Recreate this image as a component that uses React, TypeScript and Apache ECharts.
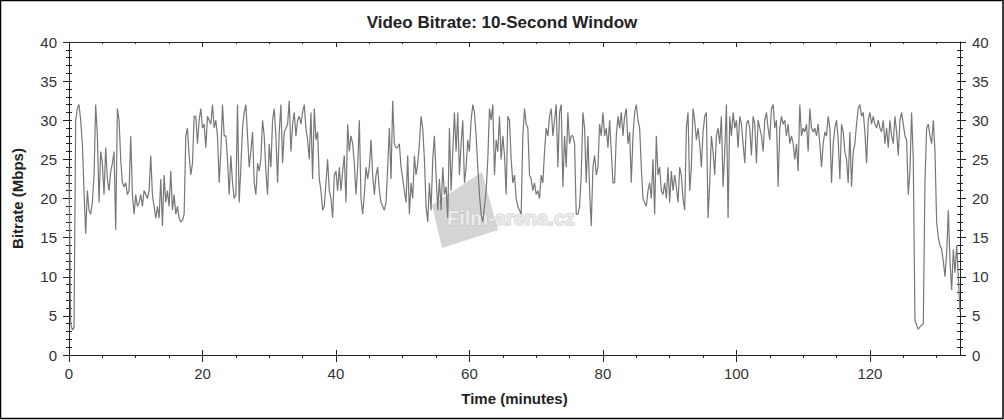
import React, { useEffect, useRef } from "react";
import * as echarts from "echarts";

// Bitrate (Mbps), sampled every 0.25 minute, in segments with their start minute
const SEG0_START = 0;
const SEG0 = [
  24, 4, 3.2, 3.5, 30, 31.5, 32, 30, 27, 21, 15.5, 21, 18.5, 18, 19.5, 23,
  32, 28, 19.5, 26, 24.5, 20.5, 26.5, 22.5, 21, 23.5, 24.5, 26, 16, 31.5, 30, 25,
  22, 21.5, 22, 20.5, 21, 28, 20.5, 18, 20.5, 19, 19.5, 20.5, 19, 21, 20.5, 20,
  21, 25.5, 20.5, 19, 17.5, 19, 17.5, 22.5, 16.5, 23, 19.5, 21, 19, 23.5, 18.5, 20.5,
  18, 19, 17.5, 17, 17.2, 18, 28, 29, 25.5, 23, 24.5, 30.5, 30.5, 27, 30, 31.5,
  29, 29.5, 26.5, 30.5, 30, 29.5, 32, 29,
];
const SEG1_START = 22;
const SEG1 = [
  30, 28, 22, 26, 32, 28, 28, 25, 20.5, 25.5, 22, 20, 20.5, 32, 19.5, 24,
  29, 31, 32, 28, 24, 26, 28.5, 22, 20.5, 24.5, 23.5, 25, 30, 28, 23.5, 20.5,
  27, 24, 30, 31.5, 28, 22, 28.5, 32, 24.5, 28.5, 29, 29.5, 32.5, 26, 29.5, 31,
  28, 30, 30.5, 29.5, 31, 32, 29, 27.5, 25, 31, 22.5, 31.5, 27.5, 28.5, 22.5, 21,
  18.5, 19, 22, 25, 21, 20, 17.5, 23, 23.5, 21, 24, 21, 23.5, 25.5, 19.5, 29.5,
  26, 28, 27, 24.5, 20.5, 24, 30, 20, 18, 20.5,
];
const SEG2_START = 44.5;
const SEG2 = [
  24, 22.5, 24, 27.5, 23, 20.5, 23, 24, 21, 19.5, 19, 18.5, 19.5, 24,
  29, 22.5, 32.5, 27, 26.5, 26.5, 27, 24, 22.5, 21, 19.5, 25.5, 18, 22, 20, 25.5,
  23, 24.5, 27, 30.5, 29, 25, 19, 17, 22, 18.5, 25, 28, 23, 18.5, 22.5, 18.5,
  24, 20.5, 21.5, 17.5, 29, 21, 26, 31, 26, 31, 23, 27, 30, 22, 24, 27.5,
  26, 30, 32, 31, 28, 24, 20.5, 18, 17, 19, 21, 25, 31.5, 30, 32, 23,
  27.5, 26, 30.5, 25, 28, 25.5, 20.5, 30.5, 30, 25, 22, 23,
];
const SEG3_START = 67;
const SEG3 = [
  20, 19, 18.5, 18, 28, 31.5, 29.5, 29, 23, 22.5, 21, 22, 20.5, 21, 20, 23,
  22, 26, 29, 28, 30.5, 31.5, 28, 30, 32, 24, 31, 32, 21.5, 28, 24, 31,
  27, 28, 28, 27, 18, 18, 19, 23, 31, 29, 22, 28, 21, 16.5, 24, 25.5,
  23, 24, 29.5, 28, 31, 28, 29, 26.5, 30, 26, 22, 22, 28, 30.5, 29, 31,
  28, 30.5, 31.5, 27, 28.5, 22, 28, 31, 32, 30, 29, 24, 20, 19.5, 19, 21,
  22, 20, 25, 18, 28, 23, 24, 21, 20.5, 22,
];
const SEG4_START = 89.5;
const SEG4 = [
  20, 24, 19.5, 23.5, 21, 23, 21.5, 19.5, 24, 23, 20, 18.5, 29, 31,
  21, 24, 31.5, 30, 27.5, 29, 27, 24, 28.5, 30.5, 31, 17.5, 22, 28, 26, 23,
  28, 29, 27, 30.5, 21.5, 26, 32, 17.5, 30.5, 28, 31, 29, 30, 26.5, 30.5, 29.5,
  27, 24.5, 29.5, 30, 29, 25.5, 30.5, 29.5, 24.5, 30, 29, 28, 26, 30, 31, 29,
  27.5, 31.5, 32, 29, 30, 21.5, 29, 30.5, 29.5, 30, 28, 29.5, 27, 28, 27, 25,
  27, 23.5, 32, 28, 29, 28.5, 29.5, 26, 31.5, 29, 28.5, 29,
];
const SEG5_START = 112;
const SEG5 = [
  28, 29.5, 27, 24, 27, 28.5, 28, 30.5, 29, 22, 27, 29, 30, 27.5, 22.5, 29.5,
  28.5, 26, 25, 22, 28.5, 21.5, 26, 27, 29.5, 31.5, 32, 30.5, 31, 28.5, 24.5, 30,
  31, 29.5, 30.5, 29.5, 29, 30, 29, 28.5, 30, 27, 29, 26.5, 30, 28, 27, 30.5,
  28.5, 25.5, 30, 31, 29.5, 28, 27.5, 20.5, 23.5, 31, 25, 4.5, 3.8, 3.3, 3.6, 3.8,
  4, 22, 29, 29.5, 28, 27, 30, 26, 17, 15, 14, 13.5, 12, 10, 13, 18.5,
  12, 8.3, 13.5, 10.5, 14, 10, 5.5,
];
const STEP = 0.25;

const X_MAJOR = [0, 20, 40, 60, 80, 100, 120];
const X_MINOR = [5, 10, 15, 25, 30, 35, 45, 50, 55, 65, 70, 75, 85, 90, 95, 105, 110, 115, 125, 130];
const X_MAX = 133.5;
const Y_MAX = 40;
const Y_INTERVAL = 5;

const TITLE = "Video Bitrate: 10-Second Window";
const X_NAME = "Time (minutes)";
const Y_NAME = "Bitrate (Mbps)";
const WATERMARK = "Film-arena.cz";

const FONT = "'Liberation Sans', Arial, sans-serif";

function buildData(): [number, number][] {
  const segs: [number, number[]][] = [
    [SEG0_START, SEG0],
    [SEG1_START, SEG1],
    [SEG2_START, SEG2],
    [SEG3_START, SEG3],
    [SEG4_START, SEG4],
    [SEG5_START, SEG5],
  ];
  const out: [number, number][] = [];
  segs.forEach(([start, vals]) => {
    vals.forEach((v, i) => out.push([start + i * STEP, v]));
  });
  return out;
}

export default function App() {
  const ref = useRef<HTMLDivElement>(null);
  useEffect(() => {
    if (!ref.current) return;
    const chart = echarts.init(ref.current, undefined, { renderer: "svg" });
    const axisColor = "#222";
    const labelColor = "#333";
    const baseX = {
      type: "value",
      min: 0,
      max: X_MAX,
      splitLine: { show: false },
      axisLine: { show: false, onZero: false },
      axisLabel: { show: false },
    };
    const baseY = {
      type: "value",
      min: 0,
      max: Y_MAX,
      interval: Y_INTERVAL,
      splitLine: { show: false },
      axisLine: { show: false, onZero: false },
      axisLabel: { show: false },
    };
    chart.setOption({
      animation: false,
      backgroundColor: "#fff",
      title: {
        text: TITLE,
        left: "center",
        top: 9,
        textStyle: { fontFamily: FONT, fontSize: 17, fontWeight: "bold", color: "#222" },
      },
      grid: { left: 69, right: 44, top: 42, bottom: 65, containLabel: false },
      xAxis: [
        {
          ...baseX,
          position: "bottom",
          name: X_NAME,
          nameLocation: "middle",
          nameGap: 36,
          nameTextStyle: { fontFamily: FONT, fontSize: 15, fontWeight: "bold", color: "#222" },
          axisLine: { show: true, onZero: false, lineStyle: { color: axisColor, width: 1 } },
          axisTick: { show: true, customValues: X_MAJOR, length: 7, lineStyle: { color: axisColor } },
          axisLabel: {
            show: true,
            customValues: X_MAJOR,
            margin: 11,
            fontFamily: FONT,
            fontSize: 15,
            color: labelColor,
          },
        },
        {
          ...baseX,
          position: "bottom",
          axisTick: { show: true, inside: true, customValues: X_MAJOR, length: 5, lineStyle: { color: axisColor } },
        },
        {
          ...baseX,
          position: "bottom",
          axisTick: { show: true, customValues: X_MINOR, length: 3, lineStyle: { color: axisColor } },
        },
        {
          ...baseX,
          position: "top",
          axisLine: { show: true, onZero: false, lineStyle: { color: axisColor, width: 1 } },
          axisTick: { show: true, inside: true, customValues: X_MAJOR, length: 5, lineStyle: { color: axisColor } },
        },
        {
          ...baseX,
          position: "top",
          axisTick: { show: true, inside: true, customValues: X_MINOR, length: 2, lineStyle: { color: axisColor } },
        },
      ],
      yAxis: [
        {
          ...baseY,
          position: "left",
          name: Y_NAME,
          nameLocation: "middle",
          nameRotate: 90,
          nameGap: 44,
          nameTextStyle: { fontFamily: FONT, fontSize: 15, fontWeight: "bold", color: "#222" },
          axisLine: { show: true, onZero: false, lineStyle: { color: axisColor, width: 1 } },
          axisTick: { show: true, length: 6, lineStyle: { color: axisColor } },
          minorTick: { show: true, splitNumber: 5, length: 3, lineStyle: { color: axisColor } },
          axisLabel: { show: true, margin: 12, fontFamily: FONT, fontSize: 15, color: labelColor },
        },
        {
          ...baseY,
          position: "left",
          axisTick: { show: true, inside: true, length: 3, lineStyle: { color: axisColor } },
          minorTick: { show: true, splitNumber: 5, length: 3, lineStyle: { color: axisColor } },
        },
        {
          ...baseY,
          position: "right",
          axisLine: { show: true, onZero: false, lineStyle: { color: axisColor, width: 1 } },
          axisTick: { show: true, length: 6, lineStyle: { color: axisColor } },
          minorTick: { show: true, splitNumber: 5, length: 3, lineStyle: { color: axisColor } },
          axisLabel: { show: true, margin: 12, fontFamily: FONT, fontSize: 15, color: labelColor },
        },
        {
          ...baseY,
          position: "right",
          axisTick: { show: true, inside: true, length: 3, lineStyle: { color: axisColor } },
          minorTick: { show: true, splitNumber: 5, length: 3, lineStyle: { color: axisColor } },
        },
      ],
      graphic: [
        {
          type: "polygon",
          z: 1,
          shape: { points: [[432, 205], [482, 172], [498, 230], [442, 248]] },
          style: { fill: "#d4d4d4" },
        },
        {
          type: "text",
          z: 1,
          x: 447,
          y: 208,
          style: {
            text: WATERMARK,
            fontFamily: FONT,
            fontSize: 20,
            fontWeight: "bold",
            fill: "#ebebeb",
            stroke: "#c4c4c4",
            lineWidth: 1,
          },
        },
        {
          type: "rect",
          z: 100,
          shape: { x: 0.5, y: 0.5, width: 1002.5, height: 418 },
          style: { fill: "none", stroke: "#000", lineWidth: 1.5 },
        },
      ],
      series: [
        {
          type: "line",
          xAxisIndex: 0,
          yAxisIndex: 0,
          data: buildData(),
          showSymbol: false,
          symbol: "none",
          z: 3,
          lineStyle: { color: "#777777", width: 1.2 },
        },
      ],
    });
    return () => chart.dispose();
  }, []);
  return (
    <div
      ref={ref}
      style={{ position: "absolute", left: 0, top: 0, width: 1004, height: 420 }}
    />
  );
}
